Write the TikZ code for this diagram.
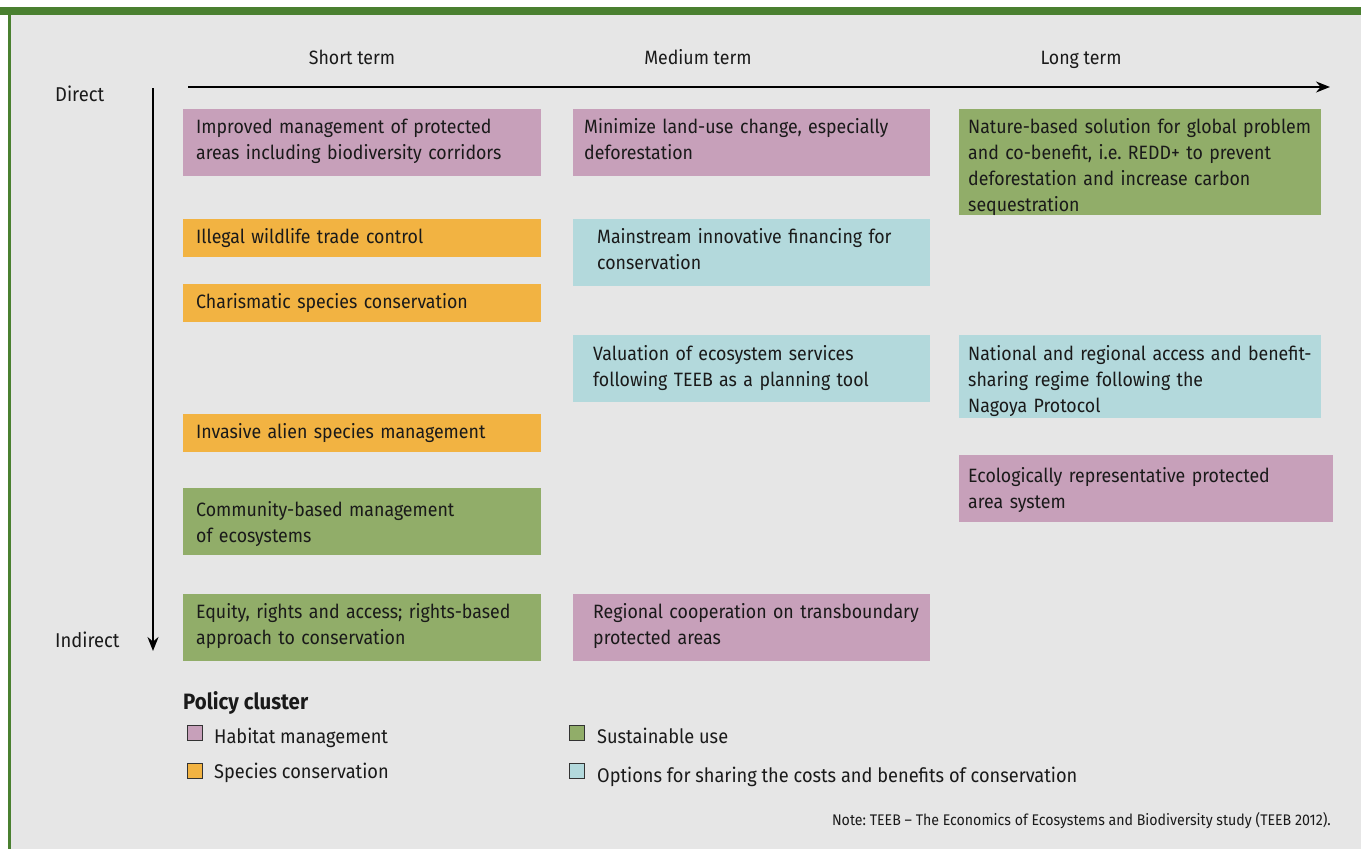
\documentclass[tikz,border=0pt]{standalone}
\usepackage{fontspec}
\setmainfont[FakeStretch=0.92]{Fira Sans}
\usetikzlibrary{arrows.meta,positioning}
\frenchspacing
\definecolor{clhabitat}{HTML}{C7A0BA}
\definecolor{clspecies}{HTML}{F2B342}
\definecolor{clsustain}{HTML}{91AD69}
\definecolor{clsharing}{HTML}{B3D9DC}
\definecolor{clpanel}  {HTML}{E6E6E6}
\definecolor{clframe}  {HTML}{4A8030}
\definecolor{cltext}   {HTML}{1A1A1A}
\def\clindent{13pt}
\tikzset{
  clindent/.code={\def\clindent{#1}},
  clbox/.style={anchor=north west, inner sep=0pt, text height=24pt,
    align=left, text=cltext, font=\fontsize{19.3}{26}\selectfont,
    execute at begin node={\leftskip=\clindent
      \rightskip=0pt plus 1fil minus 12pt\hyphenpenalty=10000}},
  oneline/.style={text depth=14pt},
  twolines/.style={text depth=43pt},
  threelines/.style={text depth=59pt},
  fourlines/.style={text depth=82pt},
  clhead/.style={text=cltext, inner sep=0pt, anchor=base,
    font=\fontsize{19.3}{22}\selectfont},
  clside/.style={text=cltext, inner sep=0pt, anchor=base west,
    font=\fontsize{20}{22}\selectfont},
  clkey/.style={draw=black!80, line width=0.9pt, minimum size=15pt,
    inner sep=0pt, anchor=north west},
  clkeytext/.style={anchor=base west, text=cltext, inner sep=0pt,
    font=\fontsize{19.8}{24}\selectfont},
  claxis/.style={line width=1.7pt, -{Stealth[length=14pt,width=11pt]}}
}
\begin{document}
\begin{tikzpicture}[x=1pt,y=-1pt]
  \useasboundingbox (0,0) rectangle (1361,849);
  % panel and frame
  \fill[clpanel] (10,14) rectangle (1361,849);
  \fill[clframe] (0,7) rectangle (1361,15);
  \fill[clframe] (8,7) rectangle (11,849);

  % axes
  \node[clhead] (short) at (352,64) {Short term};
  \node[clhead] (medium) at (698,64) {Medium term};
  \node[clhead] (long) at (1081,64) {Long term};
  \coordinate (tstart) at (188,87);
  \coordinate (tend) at (1330,87);
  \draw[claxis] (tstart) -- (tend);
  \node[clside] (direct) at (55,101) {Direct};
  \node[clside] (indirect) at (55,647) {Indirect};
  \coordinate (dstart) at (153,88);
  \coordinate (dend) at (153,651);
  \draw[claxis] (dstart) -- (dend);

  % short term
  \node[clbox, twolines, fill=clhabitat, text width=358pt] (protmgmt) at (183,109)
    {Improved management of protected\\areas including biodiversity corridors};
  \node[clbox, oneline, fill=clspecies, text width=358pt] (wildlife) at (183,219)
    {Illegal wildlife trade control};
  \node[clbox, oneline, fill=clspecies, text width=358pt] (charisma) at (183,284)
    {Charismatic species conservation};
  \node[clbox, oneline, fill=clspecies, text width=358pt] (invasive) at (183,414)
    {Invasive alien species management};
  \node[clbox, fill=clsustain, text width=358pt, text height=28pt,
    text depth=39pt] (community) at (183,488)
    {Community-based management\\of ecosystems};
  \node[clbox, twolines, fill=clsustain, text width=358pt] (equity) at (183,594)
    {Equity, rights and access; rights-based\\approach to conservation};

  % medium term
  \node[clbox, twolines, fill=clhabitat, clindent=11pt, text width=357pt]
    (landuse) at (573,109)
    {Minimize land-use change, especially\\deforestation};
  \node[clbox, twolines, fill=clsharing, clindent=24pt, text width=357pt]
    (financing) at (573,219)
    {Mainstream innovative financing for\\conservation};
  \node[clbox, fill=clsharing, clindent=20pt, text width=357pt,
    text height=25pt, text depth=42pt] (valuation) at (573,335)
    {Valuation of ecosystem services\\following TEEB as a planning tool};
  \node[clbox, twolines, fill=clhabitat, clindent=20pt, text width=357pt]
    (regional) at (573,594)
    {Regional cooperation on transboundary\\protected areas};

  % long term
  \node[clbox, fourlines, fill=clsustain, clindent=9pt, text width=362pt]
    (redd) at (959,109)
    {Nature-based solution for global problem\\and co-benefit, i.e. REDD+ to prevent\\deforestation and increase carbon\\sequestration};
  \node[clbox, fill=clsharing, clindent=9pt, text width=362pt,
    text height=25pt, text depth=58pt] (nagoya) at (959,335)
    {National and regional access and benefit-\\sharing regime following the\\Nagoya Protocol};
  \node[clbox, fill=clhabitat, clindent=9pt, text width=374pt,
    text height=27pt, text depth=40pt] (ecorep) at (959,455)
    {Ecologically representative protected\\area system};

  % legend
  \node[anchor=base west, inner sep=0pt, text=cltext,
    font=\fontsize{22.2}{24}\selectfont\bfseries] (cluster) at (183,709) {Policy cluster};
  \node[clkey, fill=clhabitat] (keyhab) at (187,725) {};
  \node[clkeytext] (labhab) at (214,743) {Habitat management};
  \node[clkey, fill=clspecies] (keyspec) at (187,763) {};
  \node[clkeytext] (labspec) at (214,778) {Species conservation};
  \node[clkey, fill=clsustain] (keysust) at (569,725) {};
  \node[clkeytext] (labsust) at (597,743) {Sustainable use};
  \node[clkey, fill=clsharing] (keyshare) at (569,763) {};
  \node[clkeytext] (labshare) at (597,782)
    {Options for sharing the costs and benefits of conservation};

  \node[anchor=base east, inner sep=0pt, text=cltext,
    font=\fontsize{15.4}{17}\selectfont] (note) at (1331,825)
    {Note: TEEB -- The Economics of Ecosystems and Biodiversity study (TEEB 2012).};
\end{tikzpicture}
\end{document}
